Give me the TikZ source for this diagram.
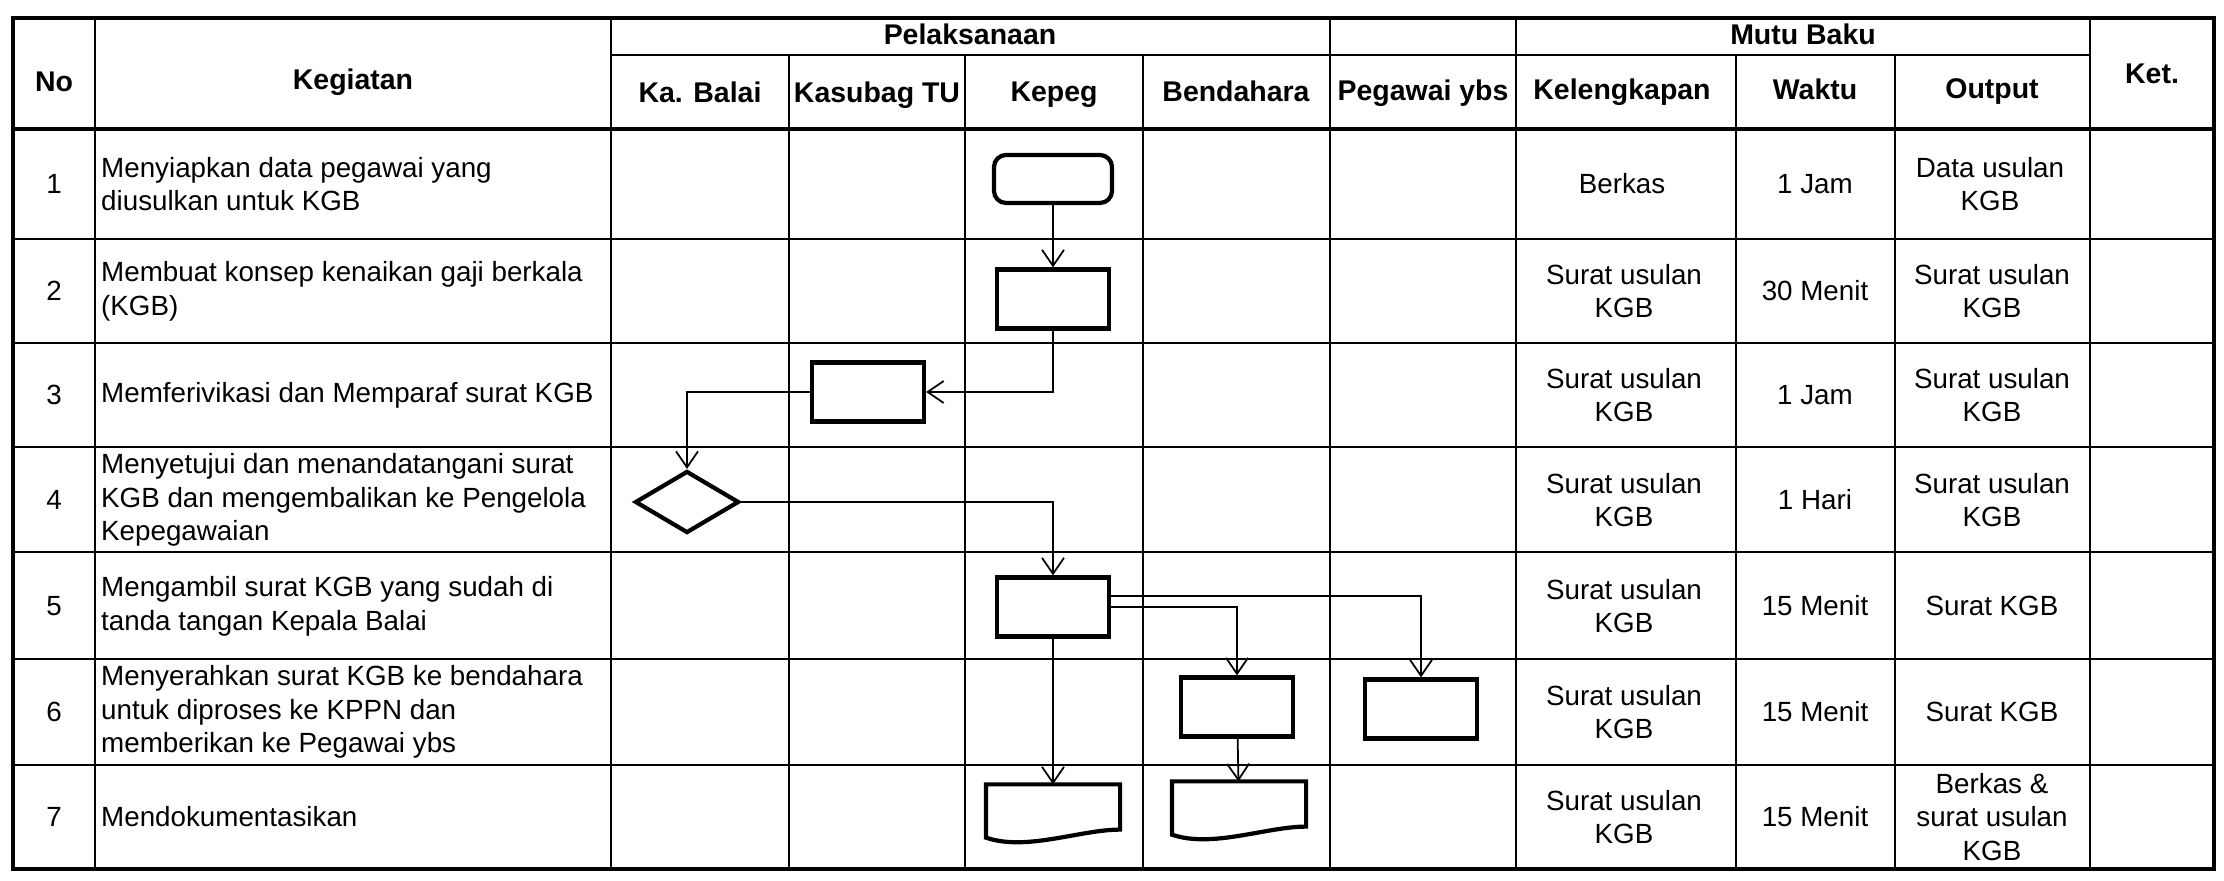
\documentclass[tikz,border=0pt]{standalone}
\usepackage{fontspec}
\setmainfont{Liberation Sans}
\usetikzlibrary{arrows.meta,shapes.geometric}

\begin{document}
\begin{tikzpicture}[x=0.1mm,y=-0.1mm,
  every node/.style={font=\fontsize{7.9}{9.6}\selectfont},
  judul/.style={font=\fontsize{8.1}{9.6}\selectfont\bfseries,anchor=base},
  isi/.style={align=center},
  uraian/.style={align=left,anchor=west,inner sep=1pt},
  bentuk/.style={line width=1.2pt},
  kotak/.style={draw,bentuk,minimum width=11.2mm,minimum height=5.9mm,inner sep=0pt},
  mulai/.style={kotak,rounded corners=1.2mm,minimum width=11.8mm,minimum height=4.8mm},
  putusan/.style={diamond,draw,bentuk,minimum width=10.4mm,minimum height=6.2mm,inner sep=0pt},
  dokumen/.style={minimum width=13mm,minimum height=4.9mm,inner sep=0pt,outer sep=0.6pt},
  garis/.style={line width=0.6pt},
  tebal/.style={line width=1pt},
  alur/.style={line width=0.5pt,-{Straight Barb[length=1.6mm,width=2.2mm]}}]
   \useasboundingbox (0,0) rectangle (2224,881);
   \draw[tebal] (13,18) rectangle (2214,869);
   \draw[tebal] (13,129) -- (2214,129);
   \draw[garis] (611,55) -- (2090,55);
   \draw[garis] (95,18) -- (95,869);
   \draw[garis] (611,18) -- (611,869);
   \draw[garis] (789,55) -- (789,869);
   \draw[garis] (965,55) -- (965,869);
   \draw[garis] (1143,55) -- (1143,869);
   \draw[garis] (1330,18) -- (1330,869);
   \draw[garis] (1516,18) -- (1516,869);
   \draw[garis] (1736,55) -- (1736,869);
   \draw[garis] (1895,55) -- (1895,869);
   \draw[garis] (2090,18) -- (2090,869);
   \draw[garis] (13,239) -- (2214,239);
   \draw[garis] (13,343) -- (2214,343);
   \draw[garis] (13,447) -- (2214,447);
   \draw[garis] (13,552) -- (2214,552);
   \draw[garis] (13,659) -- (2214,659);
   \draw[garis] (13,765) -- (2214,765);

   \node[judul] (hNo)  at (54,92)     {No};
   \node[judul] (hKeg) at (353,90)    {Kegiatan};
   \node[judul] (hPel) at (970,45)    {Pelaksanaan};
   \node[judul] (hMut) at (1803,45)   {Mutu Baku};
   \node[judul] (hKet) at (2152,84)   {Ket.};
   \node[judul] (hKab) at (700,103)   {Ka. Balai};
   \node[judul] (hKas) at (877,103)   {Kasubag TU};
   \node[judul] (hKep) at (1054,102)  {Kepeg};
   \node[judul] (hBen) at (1236,102)  {Bendahara};
   \node[judul] (hPeg) at (1423,101)  {Pegawai ybs};
   \node[judul] (hKel) at (1622,100)  {Kelengkapan};
   \node[judul] (hWak) at (1815,100)  {Waktu};
   \node[judul] (hOut) at (1992,99)   {Output};

   \node (n1) at (54,184) {1};
   \node (n2) at (54,291) {2};
   \node (n3) at (54,395) {3};
   \node (n4) at (54,500) {4};
   \node (n5) at (54,606) {5};
   \node (n6) at (54,712) {6};
   \node (n7) at (54,817) {7};

   \node[uraian] (u1) at (97,184) {Menyiapkan data pegawai yang\\diusulkan untuk KGB};
   \node[uraian] (u2) at (97,291) {Membuat konsep kenaikan gaji berkala\\(KGB)};
   \node[uraian] (u3) at (97,395) {Memferivikasi dan Memparaf surat KGB};
   \node[uraian] (u4) at (97,500) {Menyetujui dan menandatangani surat\\KGB dan mengembalikan ke Pengelola\\Kepegawaian};
   \node[uraian] (u5) at (97,606) {Mengambil surat KGB yang sudah di\\tanda tangan Kepala Balai};
   \node[uraian] (u6) at (97,712) {Menyerahkan surat KGB ke bendahara\\untuk diproses ke KPPN dan\\memberikan ke Pegawai ybs};
   \node[uraian] (u7) at (97,817) {Mendokumentasikan};

   \node[isi] (l1) at (1622,184) {Berkas};
   \node[isi] (l2) at (1624,291) {Surat usulan\\KGB};
   \node[isi] (l3) at (1624,395) {Surat usulan\\KGB};
   \node[isi] (l4) at (1624,500) {Surat usulan\\KGB};
   \node[isi] (l5) at (1624,606) {Surat usulan\\KGB};
   \node[isi] (l6) at (1624,712) {Surat usulan\\KGB};
   \node[isi] (l7) at (1624,817) {Surat usulan\\KGB};

   \node[isi] (w1) at (1815,184) {1 Jam};
   \node[isi] (w2) at (1815,291) {30 Menit};
   \node[isi] (w3) at (1815,395) {1 Jam};
   \node[isi] (w4) at (1815,500) {1 Hari};
   \node[isi] (w5) at (1815,606) {15 Menit};
   \node[isi] (w6) at (1815,712) {15 Menit};
   \node[isi] (w7) at (1815,817) {15 Menit};

   \node[isi] (o1) at (1990,184) {Data usulan\\KGB};
   \node[isi] (o2) at (1992,291) {Surat usulan\\KGB};
   \node[isi] (o3) at (1992,395) {Surat usulan\\KGB};
   \node[isi] (o4) at (1992,500) {Surat usulan\\KGB};
   \node[isi] (o5) at (1992,606) {Surat KGB};
   \node[isi] (o6) at (1992,712) {Surat KGB};
   \node[isi] (o7) at (1992,817) {Berkas \&\\surat usulan\\KGB};

   \node[mulai]   (k1) at (1053,179) {};
   \node[kotak]   (k2) at (1053,299) {};
   \node[kotak]   (b3) at (868,392)  {};
   \node[putusan] (d4) at (687,502)  {};
   \node[kotak]   (k5) at (1053,607) {};
   \node[kotak]   (e6) at (1237,707) {};
   \node[kotak]   (p6) at (1421,709) {};
   \node[dokumen] (k7) at (1053,811) {};
   \node[dokumen] (e7) at (1239,808) {};
   \draw[bentuk] ([yshift=0.8mm]k7.south east) .. controls +(-4mm,0) and +(4mm,-1.4mm) .. (k7.south west) -- (k7.north west) -- (k7.north east) -- cycle;
   \draw[bentuk] ([yshift=0.8mm]e7.south east) .. controls +(-4mm,0) and +(4mm,-1.4mm) .. (e7.south west) -- (e7.north west) -- (e7.north east) -- cycle;

   \draw[alur] (k1) -- (k2);
   \draw[alur] (k2) |- (b3);
   \draw[alur] (b3) -| (d4);
   \draw[alur] (d4) -| (k5);
   \draw[alur] (k5) -| (e6);
   \draw[alur] ([yshift=1.1mm]k5.east) -| (p6);
   \draw[alur] (k5) -- (k7);
   \draw[alur] (e6) -- (e7);
\end{tikzpicture}
\end{document}
